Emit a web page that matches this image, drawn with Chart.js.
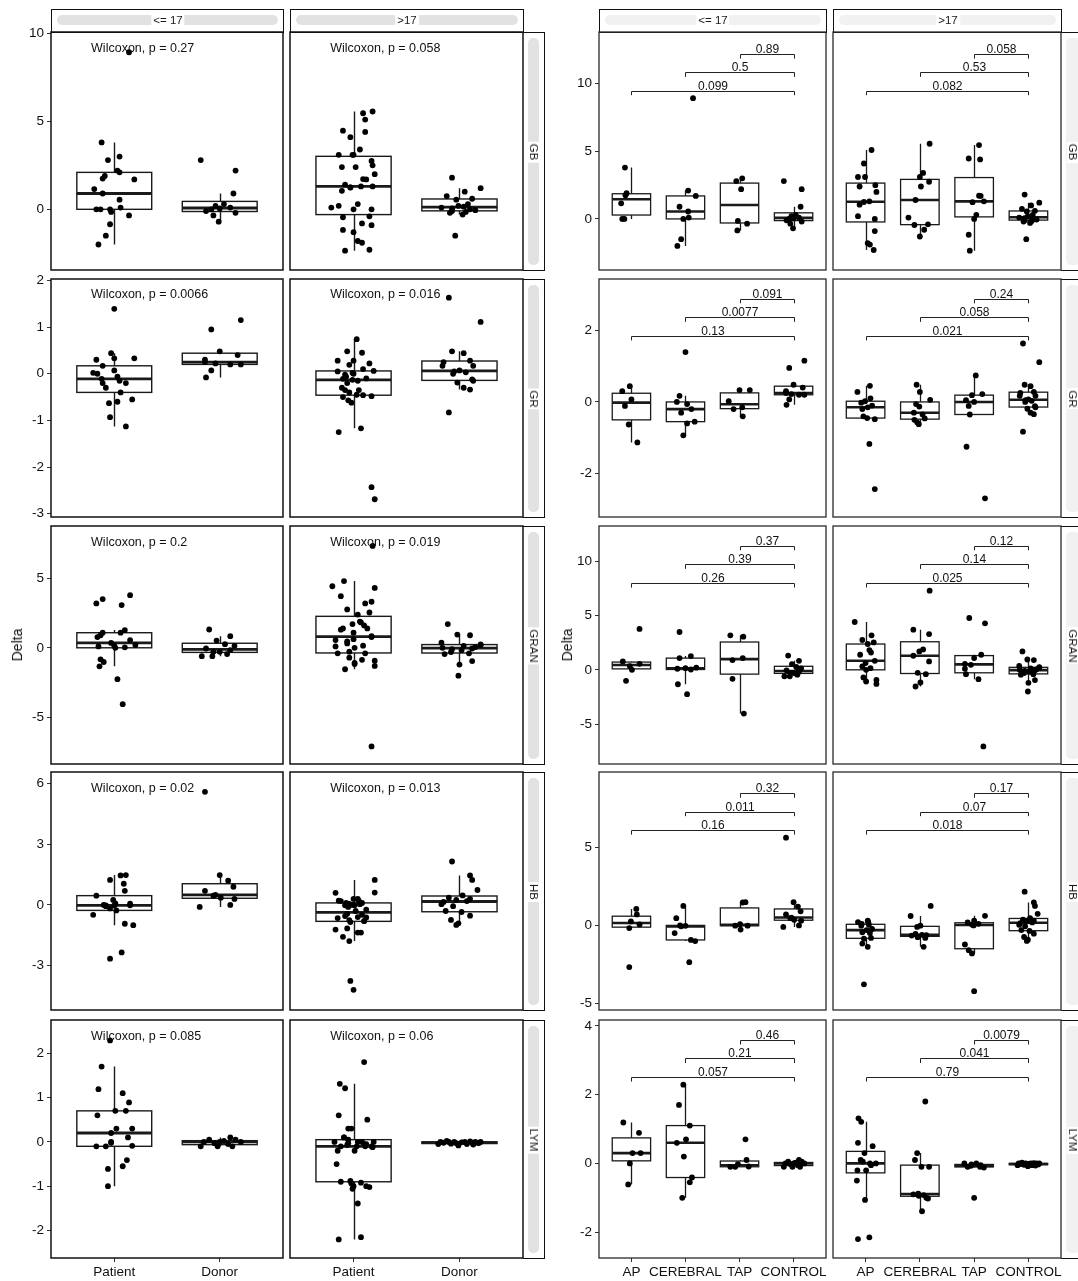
<!DOCTYPE html>
<html>
<head>
<meta charset="utf-8">
<script src="https://cdn.jsdelivr.net/npm/chart.js@4.4.1/dist/chart.umd.min.js"></script>
<style>
  body { margin: 0; background: #fff; width: 1078px; height: 1281px; overflow: hidden; position: relative;
         font-family: "Liberation Sans", Arial, sans-serif; }
  canvas { position: absolute; }
  .strip { position: absolute; box-sizing: border-box; border: 1px solid #111; background: #fff; }
  .pill { position: absolute; border-radius: 5px; }
  .slab { position: absolute; background: #fff; font-size: 11.5px; line-height: 12px; padding: 0 2px;
          color: #1a1a1a; white-space: nowrap; will-change: transform; -webkit-font-smoothing: antialiased; }
  .ytitle { position: absolute; font-size: 14px; color: #111; white-space: nowrap; will-change: transform;
            transform: translate(-50%, -50%) rotate(-90deg); }
</style>
</head>
<body>
<script>
const markers = ["GB", "GR", "GRAN", "HB", "LYM"];
const ageGroups = ["<= 17", ">17"];
const diagnoses = ["AP", "CEREBRAL", "TAP", "CONTROL"];
const sources = ["Patient", "Donor"];

// each point: [delta, horizontal jitter in category units]
const GB_young_AP = [[3.8,-0.12],[1.9,-0.09],[1.75,-0.11],[1.15,-0.19],[0,-0.17],[0,-0.13]];
const GB_young_CEREBRAL = [[8.93,0.14],[2.1,0.05],[1.7,0.19],[0.9,-0.11],[0.55,0.05],[0.1,0.06],[0,-0.04],[-1.5,-0.08],[-2.0,-0.15]];
const GB_young_TAP = [[3.0,0.05],[2.8,-0.06],[2.2,0.03],[-0.15,-0.03],[-0.35,0.14],[-0.85,-0.04]];
const GB_young_CONTROL = [[2.8,-0.18],[2.2,0.15],[0.9,0.13],[0.3,0.04],[0.2,-0.04],[0.1,0.1],[0.05,0],[0,-0.08],[-0.1,-0.13],[-0.2,0.15],[-0.35,-0.06],[-0.7,-0.01]];
const GB_old_AP = [[5.1,0.11],[4.1,-0.03],[3.1,-0.14],[3.1,-0.01],[2.4,-0.11],[2.5,0.18],[2.0,0.2],[1.3,0.07],[1.25,-0.03],[1.05,-0.11],[0.2,-0.14],[0,0.17],[-0.9,0.17],[-1.8,0.04],[-1.9,0.08],[-2.3,0.15]];
const GB_old_CEREBRAL = [[5.56,0.18],[3.4,0.06],[3.1,0],[2.75,0.17],[2.4,0.02],[1.4,-0.08],[0.1,-0.21],[-0.4,0.15],[-0.45,-0.1],[-0.8,0.08],[-1.3,0]];
const GB_old_TAP = [[5.46,0.09],[4.4,0.11],[4.47,-0.1],[1.72,0.09],[1.7,0.12],[1.24,-0.03],[1.3,0.18],[0.3,0.04],[0,0],[-1.17,-0.1],[-2.35,-0.08]];
const GB_old_CONTROL = [[1.8,-0.07],[1.2,0.2],[1.0,0.05],[0.75,-0.12],[0.6,0.12],[0.55,-0.03],[0.3,0.08],[0.2,-0.01],[0.15,0.04],[0.1,-0.17],[0.05,-0.07],[0,0.1],[-0.05,0.15],[-0.1,-0.07],[-0.15,0.06],[-0.2,-0.09],[-0.3,0.03],[-1.5,-0.04]];

const GR_young_AP = [[0.44,-0.03],[0.3,-0.17],[0.07,0],[-0.11,-0.12],[-0.63,-0.05],[-1.13,0.11]];
const GR_young_CEREBRAL = [[1.39,0],[0.17,-0.11],[0,-0.16],[-0.06,0.03],[-0.2,0.11],[-0.3,-0.08],[-0.55,0.17],[-0.6,0.03],[-0.93,-0.04]];
const GR_young_TAP = [[0.33,0],[0.33,0.19],[0.02,-0.2],[-0.15,0.05],[-0.2,-0.11],[-0.4,0.06]];
const GR_young_CONTROL = [[1.15,0.2],[0.95,-0.08],[0.48,0],[0.4,0.17],[0.3,-0.14],[0.25,-0.14],[0.22,-0.04],[0.2,0.2],[0.2,0.1],[0.07,-0.08],[-0.08,-0.13]];
const GR_old_AP = [[0.45,0.08],[0.28,-0.15],[0.1,0.09],[0.02,-0.01],[-0.02,-0.08],[-0.1,0.12],[-0.15,0.04],[-0.2,-0.06],[-0.4,-0.04],[-0.45,0.03],[-0.48,0.17],[-1.17,0.07],[-2.43,0.17]];
const GR_old_CEREBRAL = [[0.48,-0.06],[0.28,0],[0.06,0.19],[-0.06,-0.07],[-0.13,-0.01],[-0.3,-0.11],[-0.35,0.05],[-0.46,0.09],[-0.5,-0.1],[-0.57,-0.05],[-0.62,-0.02]];
const GR_old_TAP = [[0.74,0.03],[0.22,0.15],[0.19,-0.04],[0.05,-0.15],[0,0],[-0.11,-0.1],[-0.35,-0.08],[-1.25,-0.14],[-2.69,0.2]];
const GR_old_CONTROL = [[1.63,-0.1],[1.11,0.2],[0.48,-0.07],[0.44,0.04],[0.28,0.1],[0.25,-0.15],[0.17,0.13],[0.17,-0.16],[0.07,0],[0.05,-0.05],[0.03,0.06],[0,-0.06],[-0.12,0.12],[-0.15,0.13],[-0.19,-0.02],[-0.3,0.04],[-0.34,0.1],[-0.83,-0.1]];

const GRAN_young_AP = [[3.77,0.15],[0.77,-0.16],[0.55,0.15],[0.35,-0.03],[0,0.01],[-1.02,-0.1]];
const GRAN_young_CEREBRAL = [[3.49,-0.11],[1.08,-0.11],[1.27,0.1],[0.15,0],[0.1,-0.15],[0.2,0.2],[0.03,0.1],[-1.33,-0.14],[-2.25,0.03]];
const GRAN_young_TAP = [[3.18,-0.17],[3.06,0.07],[1.08,0.06],[0.9,-0.13],[-0.83,-0.13],[-4.04,0.08]];
const GRAN_young_CONTROL = [[1.31,-0.1],[0.83,0.1],[0.52,-0.03],[0.26,0.05],[0.14,0.14],[-0.05,-0.13],[-0.17,0.1],[-0.29,-0.06],[-0.29,0],[-0.45,0.07],[-0.6,-0.17],[-0.6,-0.07]];
const GRAN_old_AP = [[4.41,-0.2],[3.18,0.11],[2.75,-0.06],[2.53,0.15],[2.38,0.04],[1.82,0.07],[1.6,0.1],[1.39,-0.1],[0.83,0.17],[0.62,0],[0.31,-0.06],[0.15,0.09],[0,0.01],[-0.71,-0.04],[-0.93,0.2],[-1.08,0.01],[-1.3,0.2]];
const GRAN_old_CEREBRAL = [[7.3,0.18],[3.7,-0.12],[3.3,0.17],[1.88,0.06],[1.7,-0.01],[1.3,-0.12],[0.77,0.17],[-0.28,-0.04],[-0.4,0.11],[-1.17,0.01],[-1.54,-0.08]];
const GRAN_old_TAP = [[4.78,-0.09],[4.29,0.2],[1.39,0.13],[1.08,0],[0.55,-0.17],[0.46,-0.06],[0.1,-0.17],[-0.4,-0.15],[-0.86,0.08],[-7.07,0.17]];
const GRAN_old_CONTROL = [[1.7,-0.11],[0.95,-0.02],[0.9,0.1],[0.36,-0.17],[0.24,0.2],[0.2,0.2],[0.14,0.04],[0.05,0.15],[0,-0.16],[-0.05,0.12],[-0.1,-0.07],[-0.17,0.02],[-0.3,-0.08],[-0.4,0.09],[-0.45,-0.14],[-0.95,0.12],[-1.2,0],[-2.0,-0.01]];

const HB_young_AP = [[1.05,0.09],[0.7,0.1],[0.25,-0.01],[0.06,0.15],[-0.17,-0.04],[-2.66,-0.04]];
const HB_young_CEREBRAL = [[1.24,-0.04],[0.46,-0.17],[0,-0.1],[-0.03,0],[-0.06,-0.08],[-0.49,-0.2],[-0.93,0.1],[-1.0,0.18],[-2.35,0.07]];
const HB_young_TAP = [[1.46,0.06],[1.48,0.11],[0.08,0.01],[-0.02,-0.08],[-0.02,0.15],[-0.27,0.02]];
const HB_young_CONTROL = [[5.6,-0.14],[1.48,0],[1.2,0.08],[0.9,0.13],[0.7,-0.14],[0.5,-0.04],[0.46,-0.06],[0.36,0.01],[0.3,0.14],[0,0.1],[-0.1,-0.19]];
const HB_old_AP = [[0.3,0.04],[0.21,-0.14],[0.2,0.05],[0.1,-0.07],[0.04,0.06],[-0.02,-0.08],[-0.23,0.12],[-0.3,0.02],[-0.44,-0.06],[-0.49,0.08],[-0.8,0.1],[-0.85,-0.03],[-1.16,-0.06],[-1.37,0.04],[-3.76,-0.03]];
const HB_old_CEREBRAL = [[1.24,0.2],[0.6,-0.17],[-0.02,0.01],[-0.1,-0.05],[-0.55,-0.08],[-0.6,0.04],[-0.62,0.12],[-0.65,-0.15],[-0.75,-0.04],[-0.8,0.1],[-1.37,0.07]];
const HB_old_TAP = [[0.61,0.2],[0.3,0],[0.19,-0.12],[0.1,0.08],[0.05,-0.04],[0,-0.01],[-1.22,-0.17],[-1.58,-0.1],[-1.79,-0.04],[-4.2,0]];
const HB_old_CONTROL = [[2.15,-0.07],[1.46,0.1],[1.24,0.12],[0.74,0.17],[0.47,0.03],[0.36,-0.1],[0.3,0.1],[0.25,-0.03],[0.19,0.07],[0.15,-0.15],[0.04,-0.17],[-0.06,-0.06],[-0.3,-0.13],[-0.35,0.02],[-0.53,0.1],[-0.74,-0.08],[-0.91,-0.01],[-0.99,-0.03]];

const LYM_young_AP = [[1.19,-0.15],[0.89,0.14],[0.3,0.02],[0.3,0.17],[0,-0.03],[-0.61,-0.06]];
const LYM_young_CEREBRAL = [[2.29,-0.04],[1.7,-0.12],[1.1,0.08],[0.7,0.01],[0.6,-0.16],[0.2,-0.03],[-0.41,0.12],[-0.55,0.08],[-1.0,-0.06]];
const LYM_young_TAP = [[0.7,0.11],[0.1,0.13],[-0.02,-0.03],[-0.1,-0.17],[-0.1,-0.08],[-0.09,0.17]];
const LYM_young_CONTROL = [[0.1,0.1],[0.05,-0.1],[0.05,0.15],[0.02,0.04],[0,-0.15],[0,0],[0,0.2],[-0.03,-0.05],[-0.05,0.08],[-0.1,-0.18],[-0.1,0.12],[-0.1,-0.02]];
const LYM_old_AP = [[1.31,-0.13],[1.21,-0.08],[0.6,-0.14],[0.5,0.13],[0.3,-0.02],[0.1,-0.09],[0.05,-0.05],[0,0.08],[0,0.19],[-0.05,0.1],[-0.2,-0.15],[-0.2,0.01],[-0.5,-0.16],[-1.06,-0.01],[-2.2,-0.14],[-2.15,0.07]];
const LYM_old_CEREBRAL = [[1.8,0.1],[0.3,-0.05],[0.1,-0.09],[-0.1,0.03],[-0.1,0.17],[-0.88,-0.03],[-0.9,-0.12],[-0.92,0.07],[-0.94,-0.02],[-1.0,0.12],[-1.02,0.15],[-1.39,0.04]];
const LYM_old_TAP = [[0,-0.18],[0,0.04],[-0.03,-0.05],[-0.05,0.12],[-0.07,-0.06],[-0.1,-0.12],[-0.1,0.11],[-0.12,0.18],[-1.0,0]];
const LYM_old_CONTROL = [[0.02,-0.12],[0.01,0.1],[0,-0.05],[0,0.15],[0,-0.18],[0,0.05],[0,0.2],[0,-0.1],[-0.01,0.02],[-0.02,-0.15],[-0.02,0.12],[-0.03,-0.03],[-0.03,0.18],[-0.04,-0.08],[-0.05,0.07],[-0.05,-0.2],[-0.06,0.13],[-0.08,-0.01]];

// p values: Patient vs Donor (left), and AP / CEREBRAL / TAP vs CONTROL (right)
const wilcoxonP = [["0.27", "0.058"], ["0.0066", "0.016"], ["0.2", "0.019"], ["0.02", "0.013"], ["0.085", "0.06"]];
const pairP_young = [["0.099", "0.5", "0.89"], ["0.13", "0.0077", "0.091"], ["0.26", "0.39", "0.37"], ["0.16", "0.011", "0.32"], ["0.057", "0.21", "0.46"]];
const pairP_old = [["0.082", "0.53", "0.058"], ["0.021", "0.058", "0.24"], ["0.025", "0.14", "0.12"], ["0.018", "0.07", "0.17"], ["0.79", "0.041", "0.0079"]];

// axis limits and ticks per row
const leftYLim = [[-3.45, 10.08], [-3.07, 2.03], [-8.33, 8.73], [-5.2, 6.58], [-2.62, 2.75]];
const leftYTicks = [[0, 5, 10], [-3, -2, -1, 0, 1, 2], [-5, 0, 5], [-3, 0, 3, 6], [-2, -1, 0, 1, 2]];
const rightYLim = [[-3.78, 13.83], [-3.21, 3.43], [-8.69, 13.27], [-5.4, 9.79], [-2.75, 4.17]];
const rightYTicks = [[0, 5, 10], [-2, 0, 2], [-5, 0, 5, 10], [-5, 0, 5], [-2, 0, 2, 4]];

const pointTable = {
  GB: [[GB_young_AP, GB_young_CEREBRAL, GB_young_TAP, GB_young_CONTROL], [GB_old_AP, GB_old_CEREBRAL, GB_old_TAP, GB_old_CONTROL]],
  GR: [[GR_young_AP, GR_young_CEREBRAL, GR_young_TAP, GR_young_CONTROL], [GR_old_AP, GR_old_CEREBRAL, GR_old_TAP, GR_old_CONTROL]],
  GRAN: [[GRAN_young_AP, GRAN_young_CEREBRAL, GRAN_young_TAP, GRAN_young_CONTROL], [GRAN_old_AP, GRAN_old_CEREBRAL, GRAN_old_TAP, GRAN_old_CONTROL]],
  HB: [[HB_young_AP, HB_young_CEREBRAL, HB_young_TAP, HB_young_CONTROL], [HB_old_AP, HB_old_CEREBRAL, HB_old_TAP, HB_old_CONTROL]],
  LYM: [[LYM_young_AP, LYM_young_CEREBRAL, LYM_young_TAP, LYM_young_CONTROL], [LYM_old_AP, LYM_old_CEREBRAL, LYM_old_TAP, LYM_old_CONTROL]],
};

// layout
const ROW_TOP = [32, 279, 526, 772, 1020];
const ROW_H = 238;
const LEFT_COLS = [[51, 283], [290, 523]];
const RIGHT_COLS = [[599, 826], [833, 1061]];
const BOX_W = 0.71;
const FONT = '"Liberation Sans", Arial, sans-serif';

Chart.defaults.font.family = FONT;

function quantile(sorted, p) {
  const h = (sorted.length - 1) * p;
  const lo = Math.floor(h);
  const hi = Math.min(lo + 1, sorted.length - 1);
  return sorted[lo] + (h - lo) * (sorted[hi] - sorted[lo]);
}

function boxStats(values) {
  const s = values.slice().sort((a, b) => a - b);
  const q1 = quantile(s, 0.25), med = quantile(s, 0.5), q3 = quantile(s, 0.75);
  const iqr = q3 - q1;
  const inside = s.filter(v => v >= q1 - 1.5 * iqr && v <= q3 + 1.5 * iqr);
  return { q1, med, q3, lo: inside[0], hi: inside[inside.length - 1] };
}

function drawBoxes(chart, groups, lw) {
  const { ctx, scales: { x, y } } = chart;
  ctx.save();
  ctx.strokeStyle = "#1a1a1a";
  groups.forEach(g => {
    const st = boxStats(g.pts.map(p => p[0]));
    const xc = Math.round(x.getPixelForValue(g.pos)) + 0.5;
    const xl = x.getPixelForValue(g.pos - BOX_W / 2);
    const xr = x.getPixelForValue(g.pos + BOX_W / 2);
    ctx.lineWidth = lw;
    ctx.beginPath();
    ctx.moveTo(xc, y.getPixelForValue(st.hi));
    ctx.lineTo(xc, y.getPixelForValue(st.q3));
    ctx.moveTo(xc, y.getPixelForValue(st.q1));
    ctx.lineTo(xc, y.getPixelForValue(st.lo));
    ctx.stroke();
    const yt = y.getPixelForValue(st.q3), yb = y.getPixelForValue(st.q1);
    ctx.fillStyle = "#fff";
    ctx.fillRect(xl, yt, xr - xl, yb - yt);
    ctx.strokeRect(xl, yt, xr - xl, yb - yt);
    ctx.lineWidth = lw * 2;
    const ym = y.getPixelForValue(st.med);
    ctx.beginPath();
    ctx.moveTo(xl, ym);
    ctx.lineTo(xr, ym);
    ctx.stroke();
  });
  ctx.restore();
}

function rowRange(marker) {
  const vals = pointTable[marker].flat().flat().map(p => p[0]);
  return [Math.min(...vals), Math.max(...vals)];
}

function drawWilcoxon(chart, marker, p) {
  const { ctx, scales: { x, y } } = chart;
  const top = rowRange(marker)[1];
  ctx.save();
  ctx.fillStyle = "#111";
  ctx.font = "12.5px " + FONT;
  ctx.textAlign = "left";
  ctx.textBaseline = "alphabetic";
  ctx.fillText("Wilcoxon, p = " + p, x.getPixelForValue(0.78), y.getPixelForValue(top));
  ctx.restore();
}

function drawBrackets(chart, marker, labels) {
  const { ctx, scales: { x, y } } = chart;
  const [lo, hi] = rowRange(marker);
  const range = hi - lo;
  ctx.save();
  ctx.strokeStyle = "#222";
  ctx.lineWidth = 1;
  ctx.fillStyle = "#111";
  ctx.font = "12px " + FONT;
  ctx.textAlign = "center";
  ctx.textBaseline = "alphabetic";
  labels.forEach((lab, k) => {
    const yv = hi + range * (0.05 + 0.12 * k);
    const yp = Math.round(y.getPixelForValue(yv)) + 0.5;
    const ytip = y.getPixelForValue(yv - 0.03 * range);
    const x1 = Math.round(x.getPixelForValue(k + 1)) + 0.5;
    const x2 = Math.round(x.getPixelForValue(4)) + 0.5;
    ctx.beginPath();
    ctx.moveTo(x1, ytip);
    ctx.lineTo(x1, yp);
    ctx.lineTo(x2, yp);
    ctx.lineTo(x2, ytip);
    ctx.stroke();
    ctx.fillText(lab, (x1 + x2) / 2, yp - 2);
  });
  ctx.restore();
}

function makePanel(cfg) {
  const yW = 45, pad = 10, xH = 28;
  const left = cfg.x0 - (cfg.showY ? yW : pad);
  const w = cfg.x1 - left + pad;
  const top = cfg.top - pad;
  const h = cfg.h + pad + (cfg.showX ? xH : pad);
  const cv = document.createElement("canvas");
  cv.width = w;
  cv.height = h;
  cv.style.left = left + "px";
  cv.style.top = top + "px";
  document.body.appendChild(cv);

  const data = cfg.groups.flatMap(g => g.pts.map(([v, j]) => ({ x: g.pos + j, y: v })));
  const tickFont = { size: 13.5, family: FONT };

  const xScale = {
    type: "linear", min: 0.4, max: cfg.cats.length + 0.6, display: cfg.showX,
    afterBuildTicks: ax => { ax.ticks = cfg.cats.map((c, i) => ({ value: i + 1 })); },
    ticks: { autoSkip: false, maxRotation: 0, color: "#111", font: tickFont, padding: 2,
             callback: (v, i) => cfg.cats[i] },
    grid: { drawOnChartArea: false, drawTicks: true, tickLength: 4, color: "#333" },
    border: { display: false },
  };
  if (cfg.showX) xScale.afterFit = s => { s.height = xH; s.paddingLeft = 0; s.paddingRight = 0; };

  const yScale = {
    type: "linear", min: cfg.yLim[0], max: cfg.yLim[1], display: cfg.showY,
    afterBuildTicks: ax => { ax.ticks = cfg.yTicks.map(v => ({ value: v })); },
    ticks: { autoSkip: false, color: "#111", font: tickFont, padding: 3, callback: v => String(v) },
    grid: { drawOnChartArea: false, drawTicks: true, tickLength: 4, color: "#333" },
    border: { display: false },
  };
  if (cfg.showY) yScale.afterFit = s => { s.width = yW; s.paddingTop = 0; s.paddingBottom = 0; };

  new Chart(cv, {
    type: "scatter",
    data: { datasets: [{ data, pointRadius: 2.9, pointHoverRadius: 2.9, backgroundColor: "#000", borderWidth: 0 }] },
    options: {
      responsive: false, animation: false, events: [],
      layout: { padding: { left: cfg.showY ? 0 : pad, right: pad, top: pad, bottom: cfg.showX ? 0 : pad } },
      plugins: { legend: { display: false }, tooltip: { enabled: false } },
      scales: { x: xScale, y: yScale },
    },
    plugins: [{
      id: "panelDeco",
      beforeDatasetsDraw: c => drawBoxes(c, cfg.groups, cfg.boxW),
      afterDatasetsDraw: c => cfg.deco(c),
      afterDraw: c => {
        const a = c.chartArea, ctx = c.ctx;
        ctx.save();
        ctx.lineWidth = cfg.frameW;
        ctx.strokeStyle = cfg.frameColor;
        ctx.strokeRect(a.left, a.top, a.right - a.left, a.bottom - a.top);
        ctx.restore();
      },
    }],
  });
}

function addDiv(cls, style, parent) {
  const d = document.createElement("div");
  d.className = cls;
  Object.assign(d.style, style);
  (parent || document.body).appendChild(d);
  return d;
}

function headerStrip(x0, x1, text, pillColor) {
  const box = addDiv("strip", { left: x0 + "px", top: "9px", width: (x1 - x0 + 1) + "px", height: "24px" });
  addDiv("pill", { left: "5px", right: "5px", top: "5px", height: "10px", background: pillColor }, box);
  const lab = addDiv("slab", { left: "50%", top: "50%", transform: "translate(-50%, -55%)" }, box);
  lab.textContent = text;
}

function rowStrip(x0, width, top, text, pillColor, pillW) {
  const box = addDiv("strip", { left: x0 + "px", top: top + "px", width: width + "px", height: (ROW_H + 1) + "px",
                                borderLeft: "none" });
  addDiv("pill", { left: "5px", width: pillW + "px", top: "5px", bottom: "5px", background: pillColor }, box);
  const lab = addDiv("slab", { left: (5 + pillW / 2) + "px", top: "50%", transform: "translate(-50%, -50%) rotate(90deg)" }, box);
  lab.textContent = text;
}

// strips
ageGroups.forEach((a, c) => {
  headerStrip(LEFT_COLS[c][0], LEFT_COLS[c][1], a, "#e2e2e2");
  headerStrip(RIGHT_COLS[c][0], RIGHT_COLS[c][1], a, "#f1f1f1");
});
markers.forEach((m, r) => {
  rowStrip(LEFT_COLS[1][1], 22, ROW_TOP[r], m, "#e2e2e2", 11);
  rowStrip(RIGHT_COLS[1][1], 24, ROW_TOP[r], m, "#f1f1f1", 14);
});

// panels
markers.forEach((m, r) => {
  ageGroups.forEach((a, c) => {
    const [ap, cer, tap, ctl] = pointTable[m][c];
    makePanel({
      x0: LEFT_COLS[c][0], x1: LEFT_COLS[c][1], top: ROW_TOP[r], h: ROW_H,
      showY: c === 0, showX: r === markers.length - 1,
      cats: sources,
      groups: [{ pos: 1, pts: ap.concat(cer, tap) }, { pos: 2, pts: ctl }],
      yLim: leftYLim[r], yTicks: leftYTicks[r],
      frameW: 1.5, frameColor: "#111", boxW: 1.4,
      deco: ch => drawWilcoxon(ch, m, wilcoxonP[r][c]),
    });
    makePanel({
      x0: RIGHT_COLS[c][0], x1: RIGHT_COLS[c][1], top: ROW_TOP[r], h: ROW_H,
      showY: c === 0, showX: r === markers.length - 1,
      cats: diagnoses,
      groups: diagnoses.map((d, i) => ({ pos: i + 1, pts: pointTable[m][c][i] })),
      yLim: rightYLim[r], yTicks: rightYTicks[r],
      frameW: 1.3, frameColor: "#2a2a2a", boxW: 1.3,
      deco: ch => drawBrackets(ch, m, (c === 0 ? pairP_young : pairP_old)[r]),
    });
  });
});

// axis titles
const midY = (ROW_TOP[0] + ROW_TOP[4] + ROW_H) / 2;
addDiv("ytitle", { left: "17px", top: midY + "px" }).textContent = "Delta";
addDiv("ytitle", { left: "567px", top: midY + "px" }).textContent = "Delta";
</script>
</body>
</html>
